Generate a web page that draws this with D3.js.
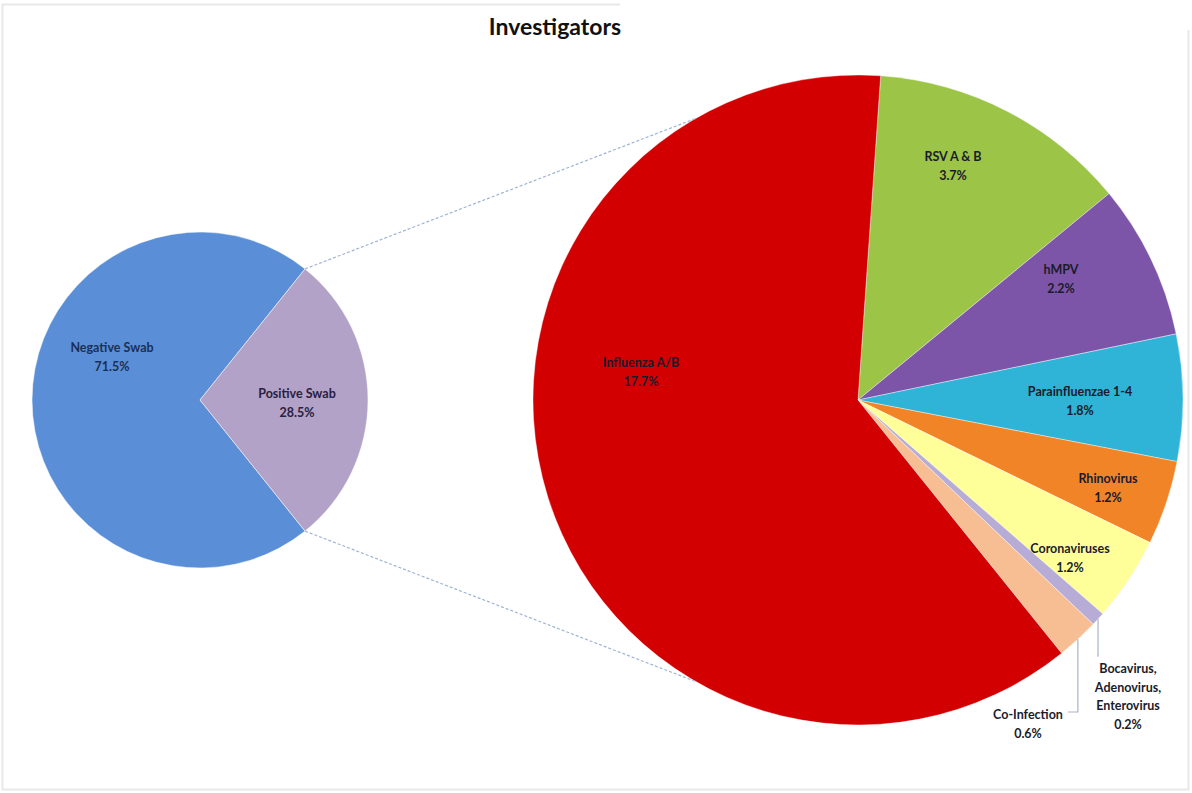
<!DOCTYPE html>
<html><head><meta charset="utf-8">
<script src="https://cdn.jsdelivr.net/npm/d3@7"></script>
<style>body{margin:0;background:#fff;font-family:Lato,"Open Sans",sans-serif;}</style>
</head><body>
<svg id="c" width="1192" height="793"></svg>
<script>
// Data
const mainCategories = ["Negative Swab", "Positive Swab"];
const mainValues = [71.5, 28.5];
const mainColors = ["#5a8fd8", "#b2a2c8"];

// Breakdown of positive swabs, clockwise from the top
const subCategories = ["RSV A & B", "hMPV", "Parainfluenzae 1-4", "Rhinovirus", "Coronaviruses", "Bocavirus, Adenovirus, Enterovirus", "Co-Infection", "Influenza A/B"];
const subValues = [3.7, 2.2, 1.8, 1.2, 1.2, 0.2, 0.6, 17.7];
const subLabels = ["3.7%", "2.2%", "1.8%", "1.2%", "1.2%", "0.2%", "0.6%", "17.7%"];
const subColors = ["#9cc447", "#7d55a8", "#2fb3d6", "#f28428", "#ffff99", "#b7acd6", "#f7bd93", "#d20000"];

const svg = d3.select("#c");
const deg = Math.PI / 180;

// frame
svg.append("path").attr("d", "M620,4.5 L2.5,4.5 L2.5,789.5 L1188.5,789.5 L1188.5,30")
  .attr("fill", "none").attr("stroke", "#e8e8e8").attr("stroke-width", 2);

svg.append("text").attr("x", 555).attr("y", 35).attr("text-anchor", "middle")
  .attr("font-size", 23).attr("font-weight", "bold").attr("fill", "#111").text("Investigators");

// Left pie
const L = {cx: 200, cy: 400, r: 168};
const posAngle = mainValues[1] / d3.sum(mainValues) * 360;
const leftPie = d3.pie().sort(null).value(d => d)
  .startAngle((90 + posAngle / 2) * deg).endAngle((90 + posAngle / 2 + 360) * deg);
const leftArcs = leftPie(mainValues);
const arcL = d3.arc().innerRadius(0).outerRadius(L.r);
const gL = svg.append("g").attr("transform", `translate(${L.cx},${L.cy})`);
gL.selectAll("path").data(leftArcs).join("path").attr("d", arcL)
  .attr("fill", (d, i) => mainColors[i]).attr("stroke", "#fff").attr("stroke-width", 0.5);

// Right pie
const R = {cx: 858, cy: 400, r: 325};
const rightPie = d3.pie().sort(null).value(d => d).startAngle(4 * deg).endAngle(364 * deg);
const rightArcs = rightPie(subValues);
const arcR = d3.arc().innerRadius(0).outerRadius(R.r);
const gR = svg.append("g").attr("transform", `translate(${R.cx},${R.cy})`);
gR.selectAll("path").data(rightArcs).join("path").attr("d", arcR)
  .attr("fill", (d, i) => subColors[i]).attr("stroke", "#fff").attr("stroke-width", 0.4);

// connector lines
const pt = (c, r, a) => [c.cx + r * Math.sin(a * deg), c.cy - r * Math.cos(a * deg)];
const lTop = pt(L, L.r, 90 - posAngle / 2), lBot = pt(L, L.r, 90 + posAngle / 2);
const rTop = pt(R, R.r, 330), rBot = pt(R, R.r, 210);
[[lTop, rTop], [lBot, rBot]].forEach(([a, b]) => {
  svg.append("line").attr("x1", a[0]).attr("y1", a[1]).attr("x2", b[0]).attr("y2", b[1])
    .attr("stroke", "#9fb4d4").attr("stroke-width", 1.2).attr("stroke-dasharray", "3,2");
});

// labels
function label(x, y, lines, color, gap) {
  const t = svg.append("text").attr("x", x).attr("y", y).attr("text-anchor", "middle")
    .attr("font-size", 12.5).attr("font-weight", "bold").attr("fill", color || "#1b1b2b");
  lines.forEach((s, i) => t.append("tspan").attr("x", x).attr("dy", i ? (gap || 19) : 0).text(s));
}
label(112, 352, [mainCategories[0], mainValues[0] + "%"], "#1c2f55");
label(297, 398, [mainCategories[1], mainValues[1] + "%"], "#2a2040");

const labelPos = [[953, 161], [1061, 274], [1080, 396], [1108, 483], [1070, 553], [1128, 673], [1028, 719], [641, 367]];
labelPos.forEach((p, i) => {
  if (i === 5) {
    label(p[0], p[1], ["Bocavirus,", "Adenovirus,", "Enterovirus", subLabels[i]], null, 18.5);
  } else {
    label(p[0], p[1], [subCategories[i], subLabels[i]]);
  }
});

// leader lines for small slices
function leader(i, x2, y2) {
  const a = rightArcs[i];
  const mid = (a.startAngle + a.endAngle) / 2 / deg;
  const s = pt(R, R.r, mid);
  svg.append("polyline").attr("points", `${s[0]},${s[1]} ${s[0]},${y2} ${x2},${y2}`)
    .attr("fill", "none").attr("stroke", "#a9b3c8").attr("stroke-width", 1.2);
}
leader(5, 1097, 656);
leader(6, 1068, 712);
</script>
</body></html>
